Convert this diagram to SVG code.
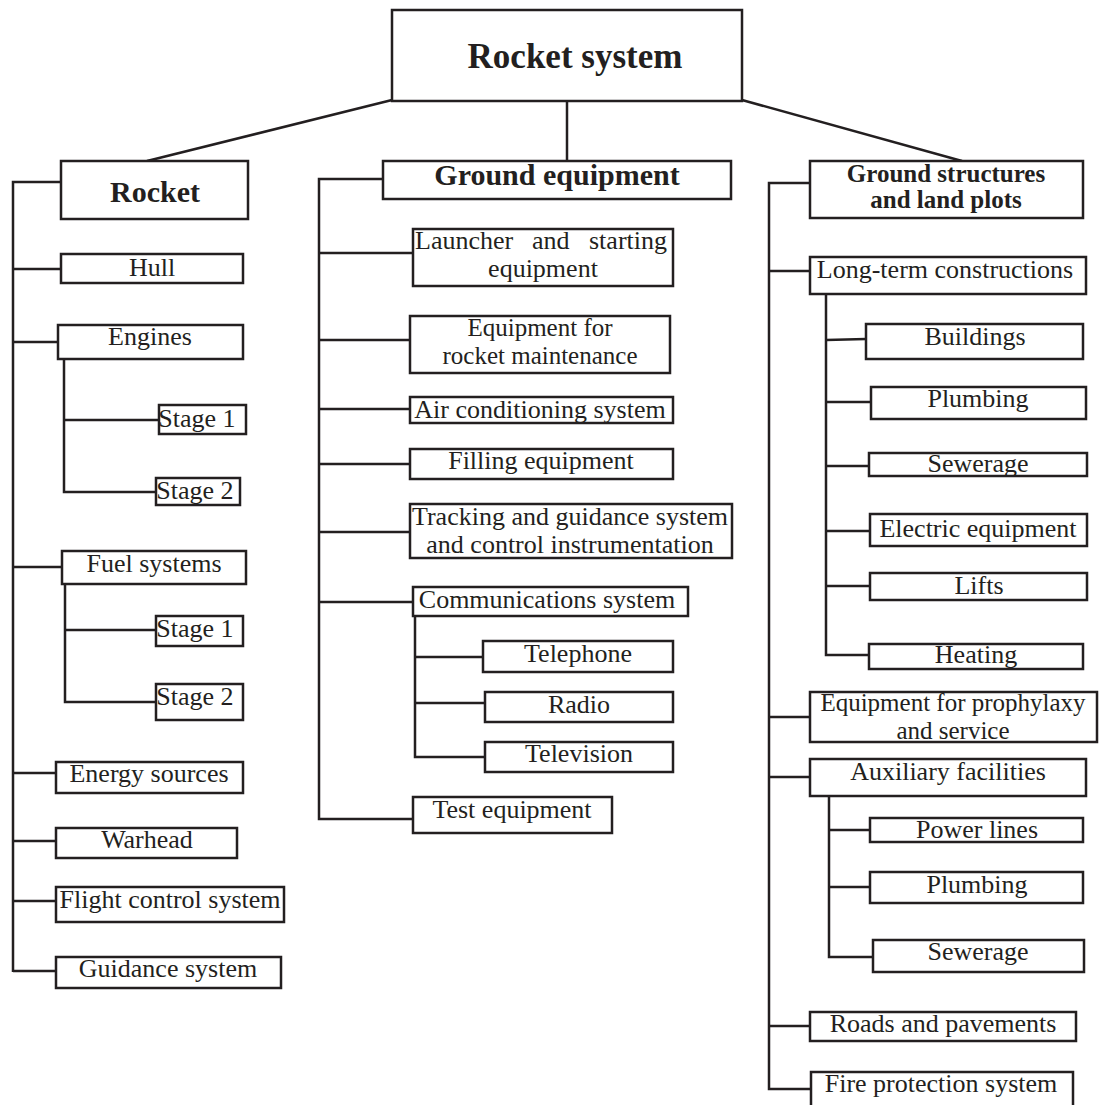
<svg xmlns="http://www.w3.org/2000/svg" width="1099" height="1105" viewBox="0 0 1099 1105">
<style>
.box{fill:#fff;stroke:#231f20;stroke-width:2.5}
.ln{fill:none;stroke:#231f20;stroke-width:2.5}
.t{font-family:"Liberation Serif",serif;font-size:26px;fill:#231f20;text-anchor:middle}
.b{font-weight:bold}
.s{font-size:25px}
</style>
<rect width="1099" height="1105" fill="#fff"/>
<g id="connectors" class="ln">
<line x1="392" y1="100" x2="147" y2="161"/>
<line x1="567" y1="101" x2="567" y2="161"/>
<line x1="742" y1="100" x2="962" y2="161"/>
<!-- left -->
<polyline points="61,182 13,182 13,972"/>
<line x1="13" y1="269" x2="61" y2="269"/>
<line x1="13" y1="342" x2="58" y2="342"/>
<polyline points="64,359 64,492 156,492"/>
<line x1="64" y1="420" x2="159" y2="420"/>
<line x1="13" y1="567" x2="62" y2="567"/>
<polyline points="65,584 65,702 156,702"/>
<line x1="65" y1="630" x2="156" y2="630"/>
<line x1="13" y1="773" x2="56" y2="773"/>
<line x1="13" y1="841" x2="56" y2="841"/>
<line x1="13" y1="901" x2="56" y2="901"/>
<line x1="13" y1="971" x2="56" y2="971"/>
<!-- middle -->
<polyline points="383,179 319,179 319,819 413,819"/>
<line x1="319" y1="253" x2="413" y2="253"/>
<line x1="319" y1="340" x2="410" y2="340"/>
<line x1="319" y1="409" x2="410" y2="409"/>
<line x1="319" y1="464" x2="410" y2="464"/>
<line x1="319" y1="532" x2="410" y2="532"/>
<line x1="319" y1="602" x2="413" y2="602"/>
<polyline points="415,616 415,757 485,757"/>
<line x1="415" y1="657" x2="483" y2="657"/>
<line x1="415" y1="703" x2="485" y2="703"/>
<!-- right -->
<polyline points="810,183 769,183 769,1089 811,1089"/>
<line x1="769" y1="271" x2="810" y2="271"/>
<polyline points="826,294 826,655 869,655"/>
<line x1="826" y1="340" x2="866" y2="339"/>
<line x1="826" y1="402" x2="871" y2="402"/>
<line x1="826" y1="466" x2="869" y2="466"/>
<line x1="826" y1="531" x2="870" y2="531"/>
<line x1="826" y1="586" x2="870" y2="586"/>
<line x1="769" y1="717" x2="810" y2="717"/>
<line x1="769" y1="777" x2="810" y2="777"/>
<polyline points="829,796 829,957 873,957"/>
<line x1="829" y1="830" x2="870" y2="830"/>
<line x1="829" y1="887" x2="870" y2="887"/>
<line x1="769" y1="1026" x2="810" y2="1026"/>
</g>
<g id="n-root"><rect class="box" x="392" y="10" width="350" height="91"/><text class="t b" x="575" y="68" style="font-size:35px">Rocket system</text></g>
<g id="n-rocket"><rect class="box" x="61" y="161" width="187" height="58"/><text class="t b" x="155" y="202" style="font-size:30px">Rocket</text></g>
<g id="n-ground-eq"><rect class="box" x="383" y="161" width="348" height="38"/><text class="t b" x="557" y="185" style="font-size:30px">Ground equipment</text></g>
<g id="n-ground-st"><rect class="box" x="810" y="161" width="273" height="57"/><text class="t b" x="946" y="182" style="font-size:25px">Ground structures</text><text class="t b" x="946" y="208" style="font-size:25px">and land plots</text></g>

<g id="n-hull"><rect class="box" x="61" y="254" width="182" height="29"/><text class="t" x="152" y="276">Hull</text></g>
<g id="n-engines"><rect class="box" x="58" y="325" width="185" height="34"/><text class="t" x="150" y="345">Engines</text></g>
<g id="n-eng-s1"><rect class="box" x="159" y="405" width="87" height="29"/><text class="t" x="197" y="427">Stage 1</text></g>
<g id="n-eng-s2"><rect class="box" x="156" y="478" width="84" height="27"/><text class="t" x="195" y="499">Stage 2</text></g>
<g id="n-fuel"><rect class="box" x="62" y="551" width="184" height="33"/><text class="t" x="154" y="572">Fuel systems</text></g>
<g id="n-fuel-s1"><rect class="box" x="156" y="616" width="87" height="30"/><text class="t" x="195" y="637">Stage 1</text></g>
<g id="n-fuel-s2"><rect class="box" x="156" y="684" width="87" height="36"/><text class="t" x="195" y="705">Stage 2</text></g>
<g id="n-energy"><rect class="box" x="56" y="762" width="187" height="31"/><text class="t" x="149" y="782">Energy sources</text></g>
<g id="n-warhead"><rect class="box" x="56" y="828" width="181" height="30"/><text class="t" x="147" y="848">Warhead</text></g>
<g id="n-flight"><rect class="box" x="56" y="887" width="228" height="35"/><text class="t" x="170" y="908">Flight control system</text></g>
<g id="n-guidance"><rect class="box" x="56" y="957" width="225" height="31"/><text class="t" x="168" y="977">Guidance system</text></g>

<g id="n-launcher"><rect class="box" x="413" y="229" width="260" height="57"/><text class="t" style="text-anchor:start" y="249"><tspan x="415">Launcher</tspan><tspan x="532">and</tspan><tspan x="589">starting</tspan></text><text class="t" x="543" y="277">equipment</text></g>
<g id="n-maint"><rect class="box" x="410" y="316" width="260" height="57"/><text class="t s" x="540" y="336">Equipment for</text><text class="t s" x="540" y="364">rocket maintenance</text></g>
<g id="n-air"><rect class="box" x="410" y="397" width="263" height="26"/><text class="t" x="540" y="418">Air conditioning system</text></g>
<g id="n-filling"><rect class="box" x="410" y="449" width="263" height="30"/><text class="t" x="541" y="469">Filling equipment</text></g>
<g id="n-tracking"><rect class="box" x="410" y="504" width="322" height="54"/><text class="t" x="570" y="525">Tracking and guidance system</text><text class="t" x="570" y="553">and control instrumentation</text></g>
<g id="n-comm"><rect class="box" x="413" y="587" width="275" height="29"/><text class="t" x="547" y="608">Communications system</text></g>
<g id="n-tel"><rect class="box" x="483" y="641" width="190" height="31"/><text class="t" x="578" y="662">Telephone</text></g>
<g id="n-radio"><rect class="box" x="485" y="692" width="188" height="30"/><text class="t" x="579" y="713">Radio</text></g>
<g id="n-tv"><rect class="box" x="485" y="742" width="188" height="30"/><text class="t" x="579" y="762">Television</text></g>
<g id="n-test"><rect class="box" x="413" y="797" width="199" height="36"/><text class="t" x="512" y="818">Test equipment</text></g>

<g id="n-longterm"><rect class="box" x="810" y="257" width="276" height="37"/><text class="t" x="945" y="278">Long-term constructions</text></g>
<g id="n-buildings"><rect class="box" x="866" y="324" width="217" height="35"/><text class="t" x="975" y="345">Buildings</text></g>
<g id="n-plumb1"><rect class="box" x="871" y="387" width="215" height="32"/><text class="t" x="978" y="407">Plumbing</text></g>
<g id="n-sewer1"><rect class="box" x="869" y="453" width="218" height="23"/><text class="t" x="978" y="472">Sewerage</text></g>
<g id="n-electric"><rect class="box" x="870" y="514" width="217" height="32"/><text class="t" x="978" y="537">Electric equipment</text></g>
<g id="n-lifts"><rect class="box" x="870" y="573" width="217" height="27"/><text class="t" x="979" y="594">Lifts</text></g>
<g id="n-heating"><rect class="box" x="869" y="644" width="214" height="25"/><text class="t" x="976" y="663">Heating</text></g>
<g id="n-prophylaxy"><rect class="box" x="810" y="692" width="287" height="50"/><text class="t s" x="953" y="711">Equipment for prophylaxy</text><text class="t s" x="953" y="739">and service</text></g>
<g id="n-aux"><rect class="box" x="810" y="759" width="276" height="37"/><text class="t" x="948" y="780">Auxiliary facilities</text></g>
<g id="n-power"><rect class="box" x="870" y="818" width="213" height="24"/><text class="t" x="977" y="838">Power lines</text></g>
<g id="n-plumb2"><rect class="box" x="870" y="872" width="213" height="31"/><text class="t" x="977" y="893">Plumbing</text></g>
<g id="n-sewer2"><rect class="box" x="873" y="940" width="211" height="32"/><text class="t" x="978" y="960">Sewerage</text></g>
<g id="n-roads"><rect class="box" x="810" y="1012" width="266" height="29"/><text class="t" x="943" y="1032">Roads and pavements</text></g>
<g id="n-fire"><rect class="box" x="811" y="1072" width="262" height="40"/><text class="t" x="941" y="1092">Fire protection system</text></g>
</svg>
